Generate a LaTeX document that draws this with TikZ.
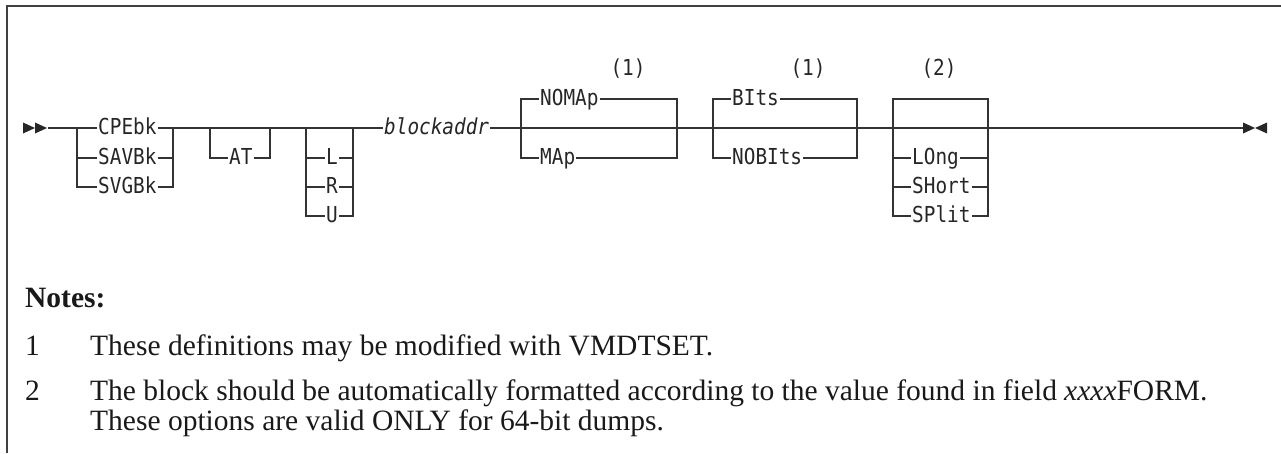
\documentclass[tikz,border=0pt]{standalone}
\usepackage{fontspec}
\setmainfont{Liberation Serif}
\setmonofont[FakeStretch=0.88]{DejaVu Sans Mono}

\begin{document}
\begin{tikzpicture}[x=1pt,y=-1pt,
  frame/.style={draw=black!75,line width=1.6pt},
  rail/.style={draw=black!80,line width=1.2pt},
  kw/.style={font=\fontsize{22}{25}\ttfamily,text=black!85,inner xsep=1pt,inner ysep=0pt,text height=13pt,text depth=0pt,anchor=west},
  var/.style={kw,font=\fontsize{22}{25}\ttfamily\itshape},
  fn/.style={font=\fontsize{22}{25}\ttfamily,text=black!85,inner sep=0pt,anchor=base},
  note/.style={font=\fontsize{29.5}{34}\selectfont,text=black!90,inner sep=0pt,anchor=base west},
  tip/.style={fill=black!85}]
  \useasboundingbox (0,0) rectangle (1281,453);
  \draw[frame] (1281,6) -- (7,6) -- (7,453);

  % start of the syntax line
  \coordinate (start) at (48,128);
  \fill[tip] (23,122.5) -- (35,128) -- (23,133.5) -- cycle (35,122.5) -- (47,128) -- (35,133.5) -- cycle;

  % block type (required)
  \coordinate (g1l) at (77,128); \coordinate (g1r) at (173,128);
  \node[kw] (cpe) at (97,128) {CPEbk};
  \node[kw] (sav) at (97,158) {SAVBk};
  \node[kw] (svg) at (97,187) {SVGBk};
  \draw[rail] (start) -- (cpe); \draw[rail] (cpe) -- (g1r);
  \foreach \n in {sav,svg} {\draw[rail] (g1l) |- (\n); \draw[rail] (\n) -| (g1r);}

  % AT (optional)
  \coordinate (g2l) at (210,128); \coordinate (g2r) at (270,128);
  \node[kw] (at) at (228,158) {AT};
  \draw[rail] (g1r) -- (g2l) -- (g2r);
  \draw[rail] (g2l) |- (at); \draw[rail] (at) -| (g2r);

  % L / R / U (optional)
  \coordinate (g3l) at (306,128); \coordinate (g3r) at (353,128);
  \node[kw] (l) at (325,158) {L};
  \node[kw] (r) at (325,187) {R};
  \node[kw] (u) at (325,216) {U};
  \draw[rail] (g2r) -- (g3l) -- (g3r);
  \foreach \n in {l,r,u} {\draw[rail] (g3l) |- (\n); \draw[rail] (\n) -| (g3r);}

  \node[var] (addr) at (383,128) {blockaddr};
  \draw[rail] (g3r) -- (addr);

  % NOMAp / MAp
  \coordinate (g4l) at (521,128); \coordinate (g4r) at (677,128);
  \node[kw] (nomap) at (539,99) {NOMAp};
  \node[kw] (map) at (539,158) {MAp};
  \node[fn] (fn1) at (628,75) {(1)};
  \draw[rail] (addr) -- (g4l) -- (g4r);
  \foreach \n in {nomap,map} {\draw[rail] (g4l) |- (\n); \draw[rail] (\n) -| (g4r);}

  % BIts / NOBIts
  \coordinate (g5l) at (713,128); \coordinate (g5r) at (857,128);
  \node[kw] (bits) at (731,99) {BIts};
  \node[kw] (nobits) at (731,158) {NOBIts};
  \node[fn] (fn2) at (808,75) {(1)};
  \draw[rail] (g4r) -- (g5l) -- (g5r);
  \foreach \n in {bits,nobits} {\draw[rail] (g5l) |- (\n); \draw[rail] (\n) -| (g5r);}

  % format (optional)
  \coordinate (g6l) at (893,128); \coordinate (g6r) at (988,128);
  \coordinate (g6t) at (893,99);
  \node[kw] (long) at (911,158) {LOng};
  \node[kw] (short) at (911,187) {SHort};
  \node[kw] (split) at (911,216) {SPlit};
  \node[fn] (fn3) at (939,75) {(2)};
  \draw[rail] (g5r) -- (g6l) -- (g6r);
  \draw[rail] (g6l) -- (g6t) -- (g6t -| g6r) -- (g6r);
  \foreach \n in {long,short,split} {\draw[rail] (g6l) |- (\n); \draw[rail] (\n) -| (g6r);}

  % end of the syntax line
  \coordinate (stop) at (1243,128);
  \draw[rail] (g6r) -- (stop);
  \draw[rail,line width=2pt] ([xshift=6pt]g6r) -- ([xshift=30pt]g6r);
  \fill[tip] (1243,122.5) -- (1255,128) -- (1243,133.5) -- cycle (1267,122.5) -- (1255,128) -- (1267,133.5) -- cycle;

  % notes
  \node[note,font=\fontsize{29.5}{34}\selectfont\bfseries] (notes) at (25,307) {Notes:};
  \node[note] (n1) at (25,355) {1};
  \node[note] (t1) at (90,355) {These definitions may be modified with VMDTSET.};
  \node[note] (n2) at (25,400) {2};
  \node[note] (t2) at (90,400) {The block should be automatically formatted according to the value found in field \textit{xxxx}FORM.};
  \node[note] (t3) at (90,430) {These options are valid ONLY for 64-bit dumps.};
\end{tikzpicture}
\end{document}
